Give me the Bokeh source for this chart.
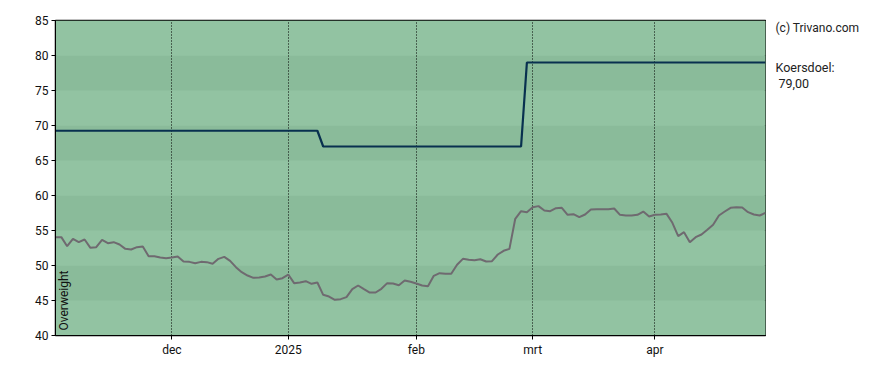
from bokeh.plotting import figure
from bokeh.layouts import row
from bokeh.models import FixedTicker, Label, Range1d
from bokeh.core.properties import value
from bokeh.embed import file_html
from bokeh.resources import INLINE
import math

# ---- data (x = trading-day index) ----
price = [54.05, 54.05, 52.76, 53.81, 53.33, 53.71, 52.52, 52.62, 53.67, 53.19,
         53.33, 53.00, 52.38, 52.29, 52.62, 52.71, 51.33, 51.33, 51.14, 51.05,
         51.14, 51.29, 50.57, 50.52, 50.33, 50.52, 50.48, 50.24, 50.95, 51.24,
         50.67, 49.76, 49.05, 48.57, 48.24, 48.29, 48.43, 48.71, 48.00, 48.19,
         48.71, 47.48, 47.57, 47.76, 47.38, 47.57, 45.81, 45.57, 45.10, 45.19,
         45.48, 46.62, 47.14, 46.62, 46.14, 46.14, 46.67, 47.48, 47.43, 47.19,
         47.86, 47.67, 47.43, 47.14, 47.05, 48.52, 48.90, 48.81, 48.81, 50.10,
         50.95, 50.81, 50.76, 50.90, 50.57, 50.62, 51.57, 52.10, 52.38, 56.67,
         57.76, 57.62, 58.33, 58.48, 57.86, 57.76, 58.19, 58.24, 57.24, 57.33,
         56.90, 57.29, 58.00, 58.05, 58.05, 58.05, 58.14, 57.24, 57.14, 57.14,
         57.24, 57.71, 57.00, 57.24, 57.29, 57.38, 56.10, 54.19, 54.76, 53.33,
         54.05, 54.43, 55.10, 55.81, 57.14, 57.71, 58.24, 58.33, 58.29, 57.62,
         57.29, 57.14, 57.52]
target_idx = [0, 45, 46, 80, 81, 122]
target_val = [69.25, 69.25, 67.0, 67.0, 79.0, 79.0]

month_idx = [20, 40, 62, 82, 103]
month_labels = ["dec", "2025", "feb", "mrt", "apr"]
y_ticks = [40, 45, 50, 55, 60, 65, 70, 75, 80, 85]
advice = "Overweight"
copyright_text = "(c) Trivano.com"
target_title = "Koersdoel:"

FONT = "Roboto"
LIGHT = "#92c3a2"
DARK = "#8abb9a"
H = 365

x = list(range(len(price)))
xmax = x[-1]

p = figure(width=766, height=H, output_backend="svg", toolbar_location=None,
           x_range=(0, xmax), y_range=(y_ticks[0], y_ticks[-1]),
           min_border_left=55, min_border_right=1, min_border_top=20,
           min_border_bottom=30)
p.background_fill_color = LIGHT
p.border_fill_color = "white"
p.outline_line_color = "black"
p.outline_line_width = 1.5

# alternating bands
bottoms, tops, colors = [], [], []
for k in range(len(y_ticks) - 1):
    bottoms.append(y_ticks[k])
    tops.append(y_ticks[k + 1])
    colors.append(LIGHT if k % 2 == 0 else DARK)
p.quad(left=-1, right=xmax + 1, bottom=bottoms, top=tops, fill_color=colors,
       line_color=None, level="image")

# grid
p.ygrid.grid_line_color = None
p.xgrid.ticker = FixedTicker(ticks=month_idx)
p.xgrid.grid_line_color = "black"
p.xgrid.grid_line_dash = "1 2"
p.xgrid.grid_line_width = 1
p.xgrid.level = "underlay"

# axes
p.xaxis.ticker = FixedTicker(ticks=month_idx)
p.xaxis.major_label_overrides = {i: l for i, l in zip(month_idx, month_labels)}
p.yaxis.ticker = FixedTicker(ticks=y_ticks)
for ax in (p.xaxis[0], p.yaxis[0]):
    ax.major_tick_out = 4
    ax.major_tick_in = 0
    ax.minor_tick_line_color = None
    ax.axis_line_color = "black"
    ax.major_tick_line_color = "black"
    ax.major_label_text_font = FONT
    ax.major_label_text_font_size = "12px"
    ax.major_label_text_color = "#111111"
    ax.major_label_standoff = 3

# lines
p.line(x, price, line_color="#6f6a70", line_width=2)
p.line(target_idx, target_val, line_color="#08304f", line_width=2.2)

p.add_layout(Label(x=2.6, y=40.7, text=advice, angle=math.pi / 2, text_font=FONT,
                   text_font_size="12px", text_baseline="bottom", text_align="left",
                   text_color="#111111"))

# side panel with texts (pixel-like coordinates, y downward)
side = figure(width=122, height=H, output_backend="svg", toolbar_location=None,
              x_range=Range1d(0, 122), y_range=Range1d(H, 0),
              x_axis_type=None, y_axis_type=None, min_border=0)
side.outline_line_color = None
side.background_fill_color = "white"
side.border_fill_color = "white"
side.grid.visible = False
side.text(x=[9, 9, 12], y=[9, 55, 73],
          text=[copyright_text, target_title,
                f"{target_val[-1]:.2f}".replace(".", ",")],
          text_font=value(FONT), text_font_size=["12px", "12.5px", "12.5px"],
          text_baseline="middle", text_align="left", text_color="#222222")

layout = row(p, side, spacing=0)
open("out.html", "w").write(file_html(layout, INLINE))
